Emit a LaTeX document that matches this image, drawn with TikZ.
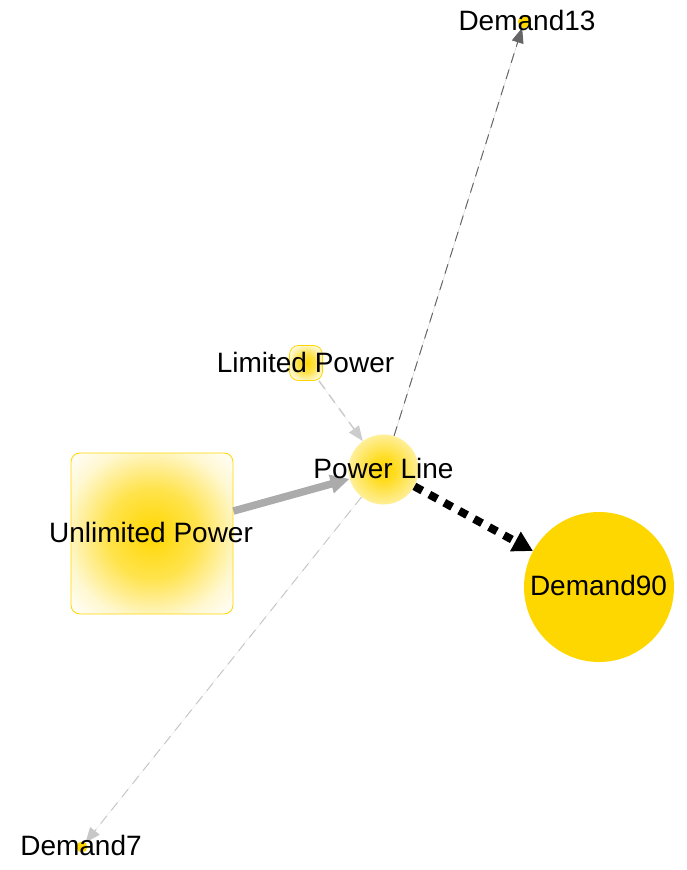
\documentclass[tikz,border=0pt]{standalone}
\usepackage{fontspec}
\setmainfont{Liberation Sans}
\usetikzlibrary{arrows.meta}
\usetikzlibrary{backgrounds}
\definecolor{gold}{RGB}{255,215,0}
\pgfdeclareradialshading{sourceglow}{\pgfpoint{0bp}{0bp}}{color(0bp)=(gold); color(14bp)=(gold!70!white); color(27bp)=(gold!18!white); color(36bp)=(white); color(50bp)=(white)}
\pgfdeclareradialshading{hubglow}{\pgfpoint{0bp}{0bp}}{color(0bp)=(gold); color(9bp)=(gold!85!white); color(25bp)=(gold!40!white); color(50bp)=(gold!40!white)}
\tikzset{labeltext/.style = {font=\fontsize{28}{30}\selectfont},
         source/.style = {draw=gold, line width=0.8pt, rounded corners=9pt,
                          shading=sourceglow, inner sep=0pt},
         hub/.style = {circle, shading=hubglow, inner sep=0pt, minimum size=70pt},
         demand/.style = {circle, fill=gold, inner sep=0pt},
         thinflow/.style = {dash pattern=on 10pt off 7pt, line width=1pt,
                            -{Triangle[length=15pt, width=12pt]}},
         bigflow/.style = {line width=7.5pt, draw=black!33,
                           -{Triangle[length=19pt, width=18pt]}}}

\begin{document}
\begin{tikzpicture}[x=1pt, y=-1pt]
    \useasboundingbox (0, 0) rectangle (686, 870);

    % nodes
    \node [source, minimum width=33pt, minimum height=35pt] (limited) at (306, 363)
          {};
    \node [source, minimum width=162pt, minimum height=161pt] (unlimited) at (152, 533.5)
          {};
    \node [hub] (pline) at (383.5, 469.5) {};
    \node [demand, minimum size=150pt] (d90) at (599, 587) {};
    \node [demand, minimum size=12pt] (d13) at (524, 22) {};
    \node [demand, minimum size=11pt] (d7) at (82, 847) {};

    % flows
    \begin{pgfonlayer}{background}
    \draw [thinflow, draw=black!60, fill=black!60] (pline) -- (d13);
    \draw [thinflow, draw=black!20, fill=black!20, line width=1.5pt] (limited) -- (pline);
    \draw [thinflow, draw=black!22, fill=black!22] (pline) -- (d7);
    \end{pgfonlayer}
    \draw [bigflow] (unlimited) -- (pline);
    \draw [line width=8pt, dash pattern=on 9pt off 8pt,
           -{Triangle[length=20pt, width=21pt]}] (pline) -- (d90);

    % labels
    \node [labeltext] at (527, 20) {Demand13};
    \node [labeltext] at (305.5, 362) {Limited Power};
    \node [labeltext] at (383.5, 468) {Power Line};
    \node [labeltext] at (151, 532) {Unlimited Power};
    \node [labeltext] at (598.5, 585) {Demand90};
    \node [labeltext] at (81, 845) {Demand7};
  \end{tikzpicture}
\end{document}
